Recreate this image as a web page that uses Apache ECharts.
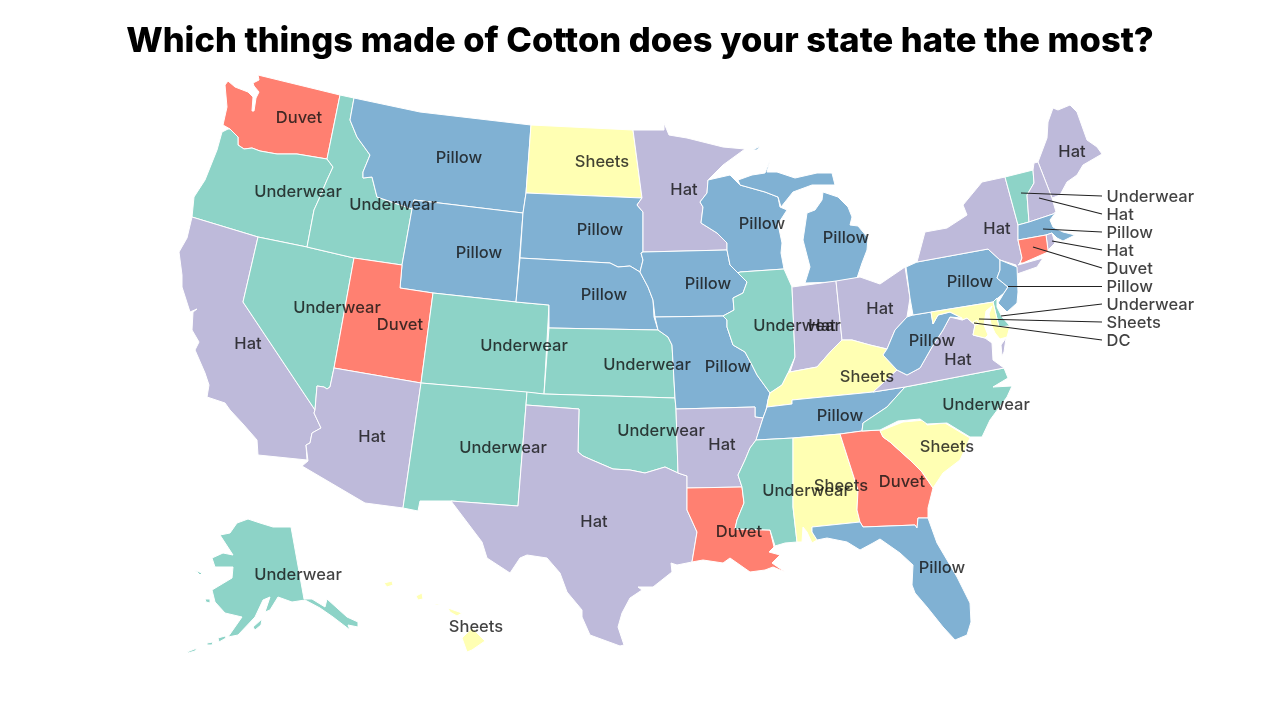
<!DOCTYPE html>
<html>
<head>
<meta charset="utf-8">
<title>Cotton map</title>
<script src="https://cdn.jsdelivr.net/npm/echarts@6/dist/echarts.min.js"></script>
<style>
  html, body { margin: 0; background: #fff; }
  #main { width: 1280px; height: 720px; }
</style>
</head>
<body>
<div id="main"></div>
<script>
const titleText = 'Which things made of Cotton does your state hate the most?';

const stateNames = ['Washington', 'Oregon', 'California', 'Nevada', 'Idaho', 'Montana', 'Wyoming', 'Utah', 'Arizona',
  'Colorado', 'New Mexico', 'North Dakota', 'South Dakota', 'Nebraska', 'Kansas', 'Oklahoma', 'Texas', 'Minnesota',
  'Iowa', 'Missouri', 'Arkansas', 'Louisiana', 'Wisconsin', 'Illinois', 'Michigan', 'Indiana', 'Ohio', 'Kentucky',
  'Tennessee', 'Mississippi', 'Alabama', 'Georgia', 'Florida', 'South Carolina', 'North Carolina', 'Virginia',
  'West Virginia', 'Pennsylvania', 'New York', 'Maine', 'Alaska', 'Hawaii',
  'Vermont', 'New Hampshire', 'Massachusetts', 'Rhode Island', 'Connecticut', 'New Jersey', 'Delaware', 'Maryland', 'DC'];

const stateThings = ['Duvet', 'Underwear', 'Hat', 'Underwear', 'Underwear', 'Pillow', 'Pillow', 'Duvet', 'Hat',
  'Underwear', 'Underwear', 'Sheets', 'Pillow', 'Pillow', 'Underwear', 'Underwear', 'Hat', 'Hat',
  'Pillow', 'Pillow', 'Hat', 'Duvet', 'Pillow', 'Underwear', 'Pillow', 'Hat', 'Hat', 'Sheets',
  'Pillow', 'Underwear', 'Sheets', 'Duvet', 'Pillow', 'Sheets', 'Underwear', 'Hat',
  'Pillow', 'Pillow', 'Hat', 'Hat', 'Underwear', 'Sheets',
  'Underwear', 'Hat', 'Pillow', 'Hat', 'Duvet', 'Pillow', 'Underwear', 'Sheets', 'DC'];

const thingColors = {
  Underwear: '#8dd3c7',
  Sheets: '#ffffb3',
  Hat: '#bebada',
  Duvet: '#ff8071',
  Pillow: '#80b1d3',
  DC: '#ffffb3'
};

// state outlines (screen pixels, y down)
const outlines = {
  Washington: [[[258,75],[340,95],[327,159],[297,154],[277,154],[260,151],[252,148],[244,149],[238,145],[238,137],[230,129],[223,125],[227,107],[225,85],[228,81],[235,87],[248,92],[253,97],[252,111],[254,111],[256,98],[259,92],[254,86],[253,83],[259,80]]],
  Oregon: [[[228,129],[230,129],[238,137],[238,145],[244,149],[252,148],[260,151],[277,154],[297,154],[327,159],[333,167],[327,180],[319,199],[314,210],[307,247],[258,237],[192,217],[194,197],[205,180],[217,150],[222,132]]],
  California: [[[192,217],[258,237],[243,302],[315,410],[314,413],[321,428],[312,433],[310,443],[306,445],[307,460],[258,455],[257,440],[243,424],[230,410],[225,403],[207,397],[209,385],[205,373],[195,350],[199,342],[192,330],[193,312],[197,309],[190,312],[182,287],[182,275],[179,252],[187,238]]],
  Nevada: [[[258,237],[307,247],[354,258],[334,368],[330,387],[327,389],[324,387],[317,386],[315,410],[243,302]]],
  Idaho: [[[340,95],[354,98],[350,120],[357,137],[370,155],[363,172],[363,178],[372,177],[377,197],[412,209],[402,265],[354,258],[307,247],[314,210],[319,199],[327,180],[333,167],[327,159]]],
  Montana: [[[354,98],[420,112],[531,125],[526,193],[523,213],[414,200],[412,209],[377,197],[372,177],[363,178],[363,172],[370,155],[357,137],[350,120]]],
  Wyoming: [[[414,200],[523,213],[516,302],[433,293],[400,288],[402,265],[412,209]]],
  Utah: [[[354,258],[402,265],[400,288],[433,293],[421,383],[334,368]]],
  Arizona: [[[334,368],[421,383],[403,508],[365,503],[302,466],[308,461],[307,460],[306,445],[310,443],[312,433],[321,428],[314,413],[315,410],[317,386],[324,387],[327,389],[330,387]]],
  Colorado: [[[433,293],[516,302],[549,305],[544,394],[421,383]]],
  'New Mexico': [[[421,383],[527,392],[518,506],[451,501],[420,501],[418,511],[403,508]]],
  'North Dakota': [[[531,125],[633,130],[642,198],[526,193]]],
  'South Dakota': [[[526,193],[642,198],[637,205],[643,212],[643,252],[641,253],[643,260],[640,272],[630,266],[618,267],[610,263],[520,258],[523,213]]],
  Nebraska: [[[520,258],[610,263],[618,267],[630,266],[640,272],[648,287],[653,300],[654,317],[658,330],[549,328],[549,305],[516,302]]],
  Kansas: [[[549,328],[658,330],[668,337],[672,345],[675,398],[544,394]]],
  Oklahoma: [[[527,392],[544,394],[675,398],[676,409],[678,473],[665,467],[645,473],[630,470],[613,469],[592,460],[583,456],[578,452],[579,409],[526,405]]],
  Texas: [[[526,405],[579,409],[578,452],[583,456],[592,460],[613,469],[630,470],[645,473],[665,467],[678,473],[687,476],[687,510],[697,532],[692,562],[677,565],[671,563],[672,572],[653,587],[638,587],[642,590],[630,598],[622,613],[618,627],[624,645],[620,646],[590,635],[582,617],[582,610],[567,592],[560,573],[547,558],[527,555],[520,558],[510,573],[487,558],[482,542],[451,501],[518,506]]],
  Minnesota: [[[633,130],[664,130],[664,123],[669,135],[687,138],[707,143],[723,147],[745,149],[723,165],[708,180],[707,193],[700,202],[703,207],[701,223],[717,233],[727,243],[727,250],[643,252],[643,212],[637,205],[642,198]]],
  Iowa: [[[643,252],[727,250],[730,265],[738,273],[747,282],[743,293],[733,298],[734,310],[723,316],[655,317],[654,317],[653,300],[648,287],[640,272],[643,260],[641,253]]],
  Missouri: [[[655,317],[723,316],[727,320],[727,327],[733,345],[745,352],[752,365],[757,375],[770,393],[768,400],[766,410],[763,418],[755,417],[755,407],[676,409],[675,398],[672,345],[668,337],[658,330]]],
  Arkansas: [[[676,409],[755,407],[755,417],[763,418],[756,440],[750,448],[745,460],[738,475],[742,487],[687,488],[687,476],[678,473]]],
  Louisiana: [[[687,488],[742,487],[744,503],[737,520],[735,529],[770,530],[774,547],[769,552],[780,555],[772,563],[785,572],[773,567],[765,570],[750,572],[730,558],[723,563],[703,560],[692,562],[697,532],[687,510]]],
  Wisconsin: [[[708,180],[730,175],[740,185],[765,192],[778,197],[780,207],[781,207],[787,210],[778,224],[782,243],[781,253],[784,269],[740,272],[738,273],[730,265],[727,250],[727,243],[717,233],[701,223],[703,207],[700,202],[707,193]]],
  Illinois: [[[740,272],[784,269],[792,287],[795,357],[788,373],[782,385],[770,393],[757,375],[752,365],[745,352],[733,345],[727,327],[727,320],[723,316],[734,310],[733,298],[743,293],[747,282],[738,273]]],
  Michigan: [
    [[738,180],[752,175],[765,173],[770,160],[767,172],[777,172],[795,178],[817,173],[832,173],[835,185],[823,185],[812,185],[793,192],[781,207],[780,207],[778,197],[765,192],[740,185]],
    [[823,192],[838,197],[848,207],[852,217],[850,225],[858,226],[868,238],[867,250],[862,263],[857,278],[836,282],[805,283],[810,267],[803,240],[807,213],[815,210],[822,200]],
    [[753,150],[760,146],[757,150]]
  ],
  Indiana: [[[792,287],[836,281],[842,340],[832,350],[817,367],[790,372],[795,357]]],
  Ohio: [[[836,281],[860,277],[880,284],[905,267],[910,298],[907,317],[895,330],[887,349],[870,345],[852,340],[842,340]]],
  Kentucky: [[[770,393],[782,385],[788,373],[790,372],[817,367],[832,350],[842,340],[852,340],[870,345],[887,349],[883,355],[897,370],[883,383],[873,392],[792,400],[792,404],[767,407],[768,400]]],
  Tennessee: [[[767,407],[792,404],[792,400],[873,392],[905,387],[887,407],[863,423],[862,431],[840,434],[793,438],[756,440],[763,418],[766,410]]],
  Mississippi: [[[756,440],[793,438],[793,507],[797,542],[785,543],[775,546],[770,530],[735,529],[737,520],[744,503],[742,487],[738,475],[745,460],[750,448]]],
  Alabama: [[[793,438],[840,434],[858,490],[857,510],[860,522],[812,527],[812,532],[817,540],[812,543],[807,532],[803,527],[802,542],[797,542],[793,507]]],
  Georgia: [[[840,434],[862,431],[880,430],[880,431],[883,437],[890,442],[910,460],[922,472],[933,488],[928,508],[928,518],[918,518],[917,528],[915,525],[863,527],[860,522],[857,510],[858,490]]],
  Florida: [[[812,527],[860,522],[863,527],[915,525],[917,528],[918,518],[928,518],[937,543],[957,577],[970,603],[971,622],[967,635],[955,640],[943,627],[927,607],[915,593],[912,585],[913,565],[900,553],[880,539],[873,543],[860,550],[847,542],[827,538],[817,540],[812,532]]],
  'South Carolina': [[[880,431],[903,422],[925,420],[927,425],[945,423],[970,438],[960,460],[943,473],[933,488],[922,472],[910,460],[890,442],[883,437]]],
  'North Carolina': [[[905,387],[1004,368],[1008,378],[993,387],[1012,386],[1007,397],[990,420],[982,437],[970,437],[947,423],[927,424],[920,419],[898,421],[880,430],[862,431],[863,423],[887,407]]],
  Virginia: [
    [[950,317],[962,320],[967,318],[975,325],[973,335],[985,338],[992,343],[993,360],[1004,368],[905,387],[873,392],[883,383],[897,370],[907,375],[920,368],[932,347],[943,330]],
    [[1002,356],[1001,345],[1006,338],[1004,352]]
  ],
  'West Virginia': [[[907,317],[913,315],[931,312],[933,324],[938,315],[950,312],[962,318],[950,317],[943,330],[932,347],[920,368],[907,375],[897,370],[883,355],[887,349],[895,330]]],
  Pennsylvania: [[[906,267],[917,262],[988,249],[1000,260],[1000,270],[997,278],[1008,287],[1004,293],[993,302],[913,315],[910,298]]],
  'New York': [[[917,262],[925,232],[947,228],[967,215],[963,205],[982,182],[1005,177],[1018,225],[1018,240],[1022,258],[1020,263],[1018,265],[1043,258],[1037,267],[1017,274],[1016,265],[1000,260],[988,249]]],
  Maine: [[[1038,162],[1047,138],[1048,122],[1053,108],[1058,110],[1070,105],[1077,112],[1087,140],[1097,147],[1102,154],[1083,165],[1077,175],[1067,182],[1060,195],[1052,198]]],
  Vermont: [[[1005,177],[1033,170],[1034,183],[1027,195],[1029,222],[1018,225]]],
  'New Hampshire': [[[1034,163],[1038,162],[1052,198],[1056,212],[1053,214],[1029,222],[1027,195],[1034,183],[1033,170]]],
  Massachusetts: [[[1018,225],[1029,222],[1053,214],[1056,212],[1050,220],[1053,227],[1063,232],[1075,235],[1063,241],[1057,238],[1052,233],[1046,235],[1018,240]]],
  'Rhode Island': [[[1046,235],[1052,233],[1055,243],[1048,250]]],
  Connecticut: [[[1018,240],[1046,235],[1048,250],[1048,252],[1023,263],[1020,263],[1022,258]]],
  'New Jersey': [[[1000,260],[1017,267],[1018,292],[1017,303],[1007,312],[998,303],[1004,293],[1008,287],[997,278],[1000,270]]],
  Delaware: [[[993,302],[997,298],[997,307],[1002,317],[1010,326],[999,327]]],
  Maryland: [[[931,312],[993,302],[999,327],[1010,326],[1007,337],[1000,339],[995,333],[991,324],[989,314],[992,306],[986,311],[984,325],[988,335],[985,338],[973,335],[975,325],[967,318],[962,320],[962,318],[950,312],[938,315],[933,324]]],
  DC: [[[973,322],[977,320],[979,324],[975,325]]],
  Alaska: [
    [[248,519],[260,523],[273,527],[291,527],[304,599],[312,599],[325,607],[327,599],[347,617],[358,622],[358,627],[348,625],[350,630],[333,617],[320,608],[305,600],[292,602],[278,597],[270,610],[265,612],[270,597],[263,600],[255,617],[238,635],[228,637],[242,617],[225,613],[215,602],[212,590],[232,578],[233,567],[215,567],[212,558],[223,553],[233,555],[220,535],[230,533],[237,523]],
    [[218,638],[225,636],[226,638],[219,642]],
    [[207,643],[213,642],[212,645],[207,645]],
    [[187,652],[197,648],[195,651],[188,653]],
    [[253,627],[262,619],[261,625],[255,630]],
    [[194,570],[202,573],[200,575],[197,572]],
    [[205,599],[210,599],[210,603],[206,602]]
  ],
  Hawaii: [
    [[472,628],[485,641],[472,650],[467,652],[462,638]],
    [[448,608],[462,613],[457,616],[450,612]],
    [[435,604],[440,604],[438,605],[435,605]],
    [[416,596],[422,593],[423,599],[418,600]],
    [[384,583],[392,581],[393,585],[387,587]]
  ]
};

// where each state's word sits
const labelSpots = {
  Washington: [299,117], Oregon: [298,191], Idaho: [393,204], Montana: [459,157], 'North Dakota': [602,161],
  Minnesota: [684,189], Wisconsin: [762,223], Michigan: [846,237], 'New York': [997,228], Maine: [1072,151],
  Pennsylvania: [970,281], Ohio: [880,308], Indiana: [822,325], Illinois: [797,325], 'West Virginia': [932,340],
  Virginia: [958,359], Kentucky: [867,376], Tennessee: [840,415], 'North Carolina': [986,404], 'South Carolina': [947,446],
  Georgia: [902,481], Alabama: [841,485], Mississippi: [806,490], Louisiana: [739,531], Arkansas: [722,444],
  Oklahoma: [661,430], Kansas: [647,364], Missouri: [728,366], Iowa: [708,283], Nebraska: [604,294],
  'South Dakota': [600,229], Wyoming: [479,252], Colorado: [524,345], 'New Mexico': [503,447], Texas: [594,521],
  Arizona: [372,436], California: [248,343], Nevada: [337,307], Utah: [400,324], Florida: [942,567],
  Alaska: [298,574], Hawaii: [476,626]
};

// small eastern states get a word in the right column and a leader line
const calloutStates = ['Vermont', 'New Hampshire', 'Massachusetts', 'Rhode Island', 'Connecticut', 'New Jersey', 'Delaware', 'Maryland', 'DC'];
const calloutFrom = [[1021,193],[1039,198],[1043,229],[1052,241],[1033,247],[1008,286],[1001,316],[979,319],[974,323]];
const calloutTo = [[1102,196],[1102,214],[1102,232],[1102,250],[1102,268],[1102,286],[1102,304],[1102,322],[1102,340]];
const calloutTextX = 1106;

const thingOf = name => stateThings[stateNames.indexOf(name)];

const geoJson = {
  type: 'FeatureCollection',
  features: stateNames.map(name => ({
    type: 'Feature',
    properties: { name: name },
    geometry: { type: 'MultiPolygon', coordinates: outlines[name].map(ring => [ring]) }
  }))
};
echarts.registerMap('usa', geoJson);

let minX = Infinity, maxX = -Infinity, minY = Infinity, maxY = -Infinity;
for (let name of stateNames) {
  for (let ring of outlines[name]) {
    for (let p of ring) {
      if (p[0] < minX) minX = p[0];
      if (p[0] > maxX) maxX = p[0];
      if (p[1] < minY) minY = p[1];
      if (p[1] > maxY) maxY = p[1];
    }
  }
}

const fontFamily = 'Inter, "Noto Sans", sans-serif';
const labelStyle = { show: true, color: '#111', fontFamily: fontFamily, fontSize: 16.5, fontWeight: 500, offset: [0, 1], formatter: '{b}' };

const myChart = echarts.init(document.getElementById('main'));
myChart.setOption({
  animation: false,
  backgroundColor: '#fff',
  title: {
    text: titleText,
    left: 'center',
    top: 19,
    textStyle: { color: '#000', fontFamily: fontFamily, fontSize: 34.5, fontWeight: 800 }
  },
  geo: {
    map: 'usa',
    roam: false,
    silent: true,
    projection: { project: p => p, unproject: p => p },
    left: minX,
    top: minY,
    width: maxX - minX,
    height: maxY - minY,
    label: { show: false },
    itemStyle: { borderColor: '#fff', borderWidth: 1 },
    regions: stateNames.map(name => ({
      name: name,
      itemStyle: { areaColor: thingColors[thingOf(name)], borderColor: '#fff', borderWidth: 1 }
    }))
  },
  series: [
    {
      name: 'leaders',
      type: 'lines',
      coordinateSystem: 'geo',
      silent: true,
      z: 3,
      lineStyle: { color: '#222', width: 1.2, opacity: 1, curveness: 0 },
      data: calloutStates.map((name, i) => ({ coords: [calloutFrom[i], calloutTo[i]] }))
    },
    {
      name: 'state words',
      type: 'scatter',
      coordinateSystem: 'geo',
      silent: true,
      z: 4,
      symbolSize: 1,
      itemStyle: { color: 'rgba(0,0,0,0)' },
      label: Object.assign({ position: 'inside' }, labelStyle),
      data: Object.keys(labelSpots).map(name => ({ name: thingOf(name), value: labelSpots[name] }))
    },
    {
      name: 'callout words',
      type: 'scatter',
      coordinateSystem: 'geo',
      silent: true,
      z: 4,
      symbolSize: 1,
      itemStyle: { color: 'rgba(0,0,0,0)' },
      label: Object.assign({ position: 'right', distance: 0 }, labelStyle),
      data: calloutStates.map((name, i) => ({ name: thingOf(name), value: [calloutTextX, calloutTo[i][1]] }))
    }
  ]
});
</script>
</body>
</html>
